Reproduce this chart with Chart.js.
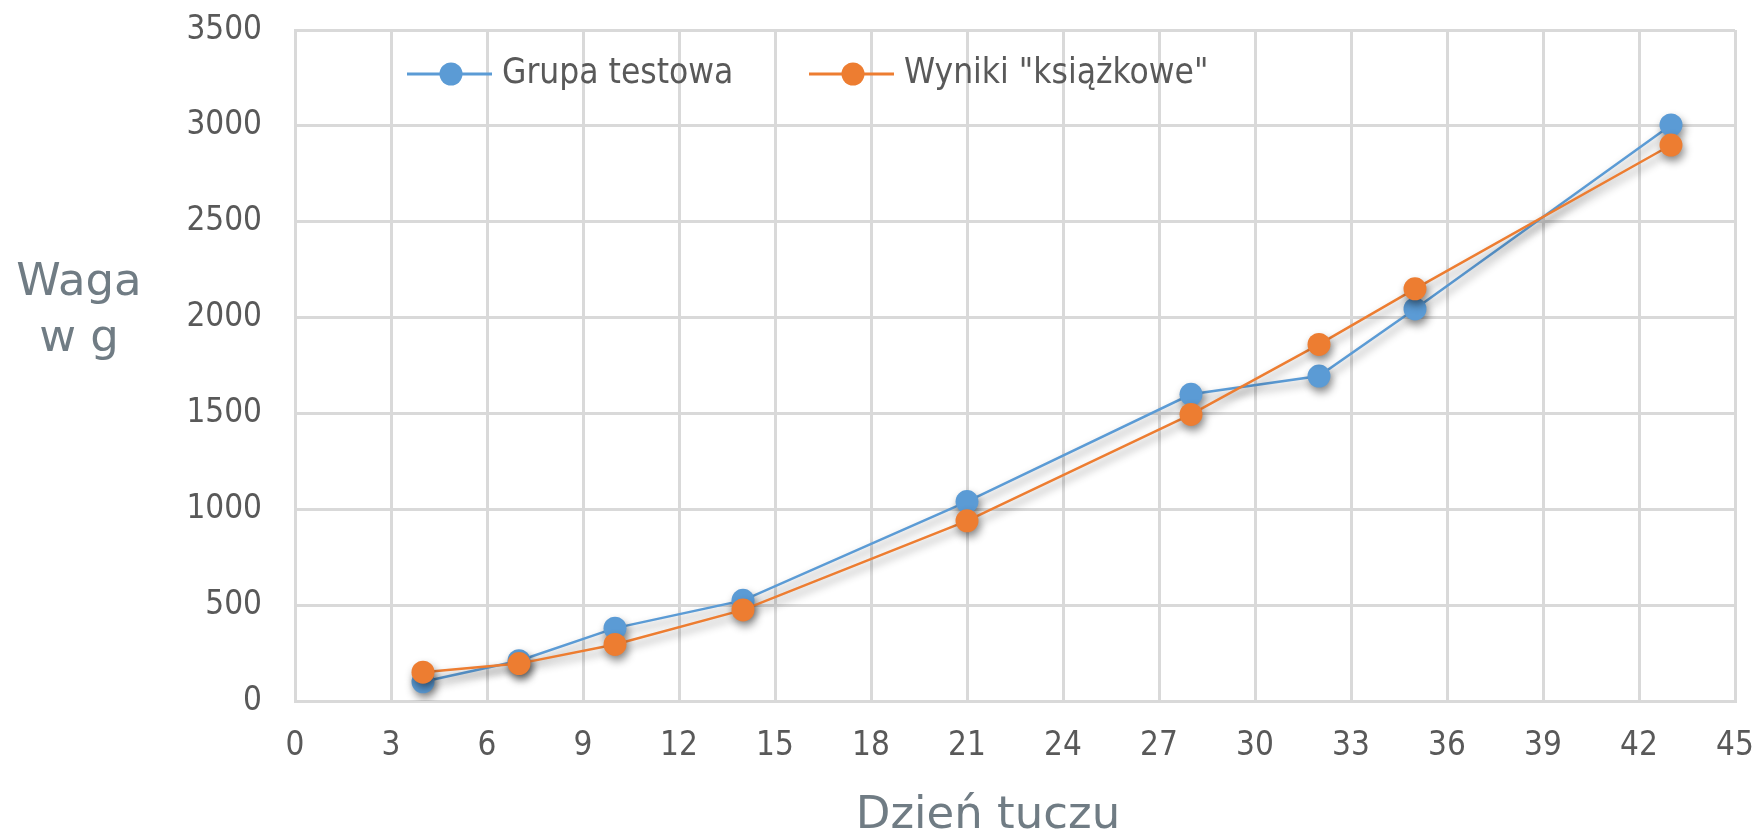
<!DOCTYPE html>
<html lang="pl">
<head>
<meta charset="utf-8">
<title>Waga w g / Dzień tuczu</title>
<script src="https://cdn.jsdelivr.net/npm/chart.js@4.4.1/dist/chart.umd.min.js"></script>
<style>
    html, body { margin: 0; padding: 0; background: #ffffff; }
    #wagaChart { display: block; }
</style>
</head>
<body>
<canvas id="wagaChart" width="1756" height="834"></canvas>
<script>
// Dane
const days = [4, 7, 10, 14, 21, 28, 32, 35, 43];
const grupaTestowa = [100, 210, 380, 525, 1040, 1600, 1695, 2045, 3005];
const wynikiKsiazkowe = [150, 195, 295, 475, 940, 1495, 1860, 2150, 2900];
const seriesLabels = ['Grupa testowa', 'Wyniki "książkowe"'];
const yTitleLines = ['Waga', 'w g'];
const xTitle = 'Dzień tuczu';

const blue = '#5B9BD5';
const orange = '#ED7D31';
const gridColor = '#D9D9D9';
const tickColor = '#595959';
const titleColor = '#707C84';
const tickFamily = "'DejaVu Sans Condensed', 'DejaVu Sans', sans-serif";

function toPoints(values) {
    return days.map((d, i) => ({ x: d, y: values[i] }));
}

// Legenda wewnątrz obszaru wykresu (linia + kropka + tekst)
const insideLegend = {
    id: 'insideLegend',
    afterDraw(chart) {
        const { ctx, chartArea } = chart;
        const offsets = [112, 514];
        const y = chartArea.top + 44;
        ctx.save();
        ctx.font = '35px ' + tickFamily;
        ctx.textBaseline = 'middle';
        chart.data.datasets.forEach((ds, i) => {
            const x0 = chartArea.left + offsets[i];
            ctx.strokeStyle = ds.borderColor;
            ctx.lineWidth = 3;
            ctx.beginPath();
            ctx.moveTo(x0, y);
            ctx.lineTo(x0 + 85, y);
            ctx.stroke();
            ctx.fillStyle = ds.borderColor;
            ctx.beginPath();
            ctx.arc(x0 + 44, y, 11.5, 0, Math.PI * 2);
            ctx.fill();
            ctx.fillStyle = tickColor;
            ctx.fillText(ds.label, x0 + 95, y);
        });
        ctx.restore();
    }
};

// Tytuły osi (poziomy tytuł osi Y w dwóch liniach)
const axisTitles = {
    id: 'axisTitles',
    afterDraw(chart) {
        const { ctx, chartArea } = chart;
        ctx.save();
        ctx.fillStyle = titleColor;
        ctx.font = '45px "DejaVu Sans", sans-serif';
        ctx.textAlign = 'center';
        ctx.textBaseline = 'alphabetic';
        const yx = chartArea.left - 216;
        yTitleLines.forEach((line, i) => {
            ctx.fillText(line, yx, chartArea.top + 265 + i * 56);
        });
        ctx.fillText(xTitle, (chartArea.left + chartArea.right) / 2 - 27, chartArea.bottom + 127);
        ctx.restore();
    }
};

// Cień pod liniami i punktami
const seriesShadow = {
    id: 'seriesShadow',
    beforeDatasetsDraw(chart) {
        const ctx = chart.ctx;
        ctx.save();
        ctx.shadowColor = 'rgba(0, 0, 0, 0.45)';
        ctx.shadowBlur = 9;
        ctx.shadowOffsetX = 2;
        ctx.shadowOffsetY = 5;
    },
    afterDatasetsDraw(chart) {
        chart.ctx.restore();
    }
};

function renderChart() {
    const ctx = document.getElementById('wagaChart').getContext('2d');

    new Chart(ctx, {
        type: 'line',
        data: {
            datasets: [{
                label: seriesLabels[0],
                data: toPoints(grupaTestowa),
                borderColor: blue,
                backgroundColor: blue,
                borderWidth: 2.5,
                pointRadius: 11.5,
                pointBorderWidth: 0,
                pointBackgroundColor: blue,
                tension: 0,
                order: 1
            }, {
                label: seriesLabels[1],
                data: toPoints(wynikiKsiazkowe),
                borderColor: orange,
                backgroundColor: orange,
                borderWidth: 2.5,
                pointRadius: 11.5,
                pointBorderWidth: 0,
                pointBackgroundColor: orange,
                tension: 0,
                order: 0
            }]
        },
        options: {
            responsive: false,
            animation: false,
            devicePixelRatio: 1,
            layout: {
                padding: { left: 0, top: 30, right: 21, bottom: 0 }
            },
            scales: {
                x: {
                    type: 'linear',
                    min: 0,
                    max: 45,
                    ticks: {
                        stepSize: 3,
                        padding: 26,
                        color: tickColor,
                        font: { family: tickFamily, size: 33 }
                    },
                    grid: { color: gridColor, lineWidth: 3, drawTicks: false },
                    border: { color: gridColor, width: 3 },
                    afterFit: scale => {
                        scale.height = 133;
                        scale.paddingLeft = 0;
                        scale.paddingRight = 0;
                    }
                },
                y: {
                    min: 0,
                    max: 3500,
                    ticks: {
                        stepSize: 500,
                        padding: 33,
                        color: tickColor,
                        font: { family: tickFamily, size: 33 },
                        callback: value => String(value)
                    },
                    grid: { color: gridColor, lineWidth: 3, drawTicks: false },
                    border: { color: gridColor, width: 3 },
                    afterFit: scale => {
                        scale.width = 295;
                        scale.paddingTop = 0;
                        scale.paddingBottom = 0;
                    }
                }
            },
            plugins: {
                legend: { display: false },
                tooltip: { enabled: false }
            }
        },
        plugins: [seriesShadow, insideLegend, axisTitles]
    });
}

window.onload = function() {
    renderChart();
};
</script>
</body>
</html>
